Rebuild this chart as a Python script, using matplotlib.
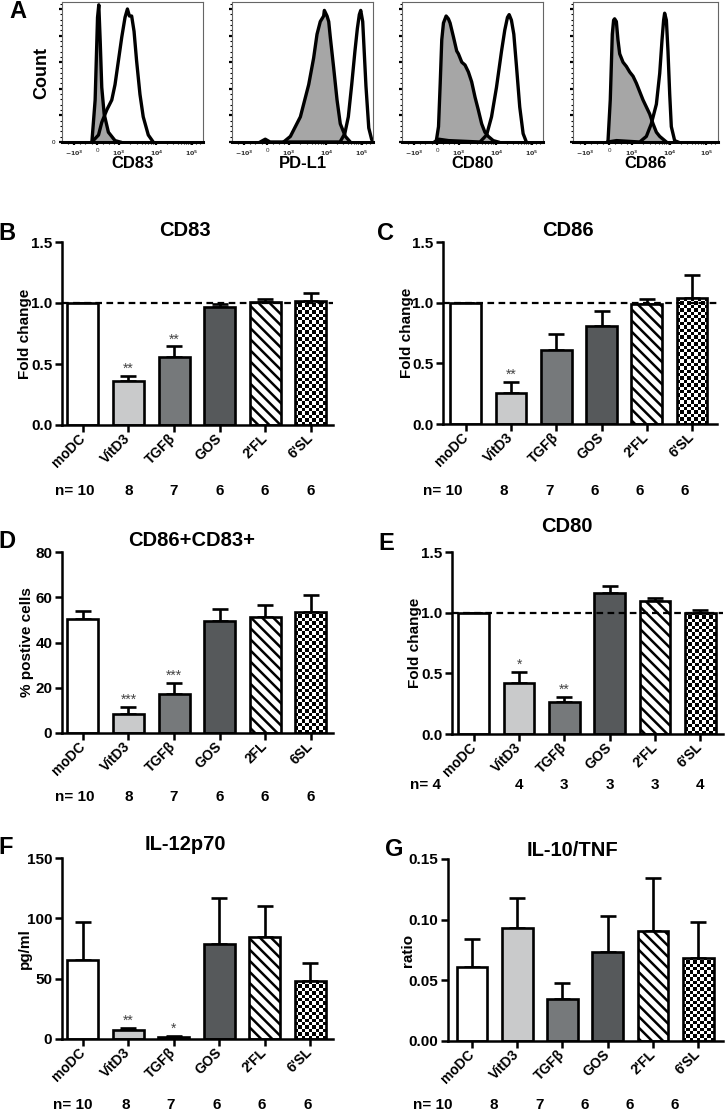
import numpy as np
import matplotlib
matplotlib.use('Agg')
import matplotlib.pyplot as plt
from matplotlib.ticker import MultipleLocator, FixedLocator

plt.rcParams['font.family'] = ['Liberation Sans', 'DejaVu Sans']
plt.rcParams['font.weight'] = 'bold'
plt.rcParams['hatch.linewidth'] = 1.8

# ---- panel A: flow histograms (channel 0-1000, % of max count) ----
cd83_iso_x = [212, 235, 252, 261, 271, 282, 299, 329, 376, 412]
cd83_iso_y = [0, 30, 89, 98, 72, 39, 20, 7, 1, 0]
cd83_st_x = [212, 259, 282, 318, 353, 376, 400, 424, 447, 464, 478, 494, 511, 529, 553, 576, 612, 647]
cd83_st_y = [0, 5, 14, 23, 30, 41, 58, 75, 89, 95, 90, 90, 79, 58, 34, 18, 5, 0]

pdl1_iso_x = [366, 414, 485, 544, 579, 603, 626, 650, 655, 674, 686, 697, 721, 745, 768, 804, 839]
pdl1_iso_y = [0, 4, 18, 41, 60, 77, 86, 90, 94, 90, 86, 75, 53, 30, 13, 4, 0]
pdl1_st_x = [200, 236, 270, 766, 800, 825, 849, 872, 889, 903, 913, 927, 950, 970, 990, 1000]
pdl1_st_y = [0, 2, 0, 0, 6, 18, 41, 65, 81, 91, 94, 86, 40, 10, 2, 0]

cd80_iso_x = [242, 259, 271, 282, 294, 313, 329, 341, 365, 388, 400, 424, 447, 471, 494, 518, 541, 565, 588, 612, 647, 682]
cd80_iso_y = [0, 11, 42, 73, 85, 90, 88, 85, 75, 65, 63, 57, 55, 50, 43, 32, 23, 13, 7, 4, 1, 0]
cd80_st_x = [230, 260, 330, 553, 600, 635, 670, 706, 729, 748, 760, 776, 793, 812, 835, 859, 882]
cd80_st_y = [0, 2, 1, 0, 5, 18, 39, 65, 80, 89, 91, 87, 77, 54, 25, 6, 0]

cd86_iso_x = [241, 257, 271, 280, 287, 299, 310, 322, 345, 368, 391, 414, 437, 460, 483, 506, 529, 552, 575, 598, 644]
cd86_iso_y = [0, 30, 77, 87, 88, 86, 73, 63, 57, 54, 50, 47, 42, 36, 30, 25, 20, 13, 7, 4, 0]
cd86_st_x = [241, 300, 460, 506, 540, 575, 598, 614, 625, 632, 644, 655, 667, 678, 701, 724]
cd86_st_y = [0, 1, 0, 4, 13, 27, 49, 73, 87, 92, 87, 65, 34, 11, 1, 0]

hist_tick_pos = [85, 250, 405, 670, 920]
hist_tick_lab = ['$-10^3$', '0', '$10^3$', '$10^4$', '$10^5$']

# ---- bar panels ----
groups = ['moDC', 'VitD3', 'TGFβ', 'GOS', "2'FL", "6'SL"]
groups_d = ['moDC', 'VitD3', 'TGFβ', 'GOS', '2FL', '6SL']
n_main = [10, 8, 7, 6, 6, 6]
n_cd80 = [4, 4, 3, 3, 3, 4]

cd83_mean = [1.0, 0.36, 0.56, 0.97, 1.01, 1.02]
cd83_sem = [0, 0.04, 0.085, 0.02, 0.025, 0.06]
cd86_mean = [1.0, 0.255, 0.61, 0.81, 0.985, 1.035]
cd86_sem = [0, 0.09, 0.13, 0.12, 0.045, 0.19]
dp_mean = [50.3, 8.4, 17.3, 49.7, 51.4, 53.7]
dp_sem = [3.6, 3.3, 4.8, 5.1, 5.1, 7.3]
cd80_mean = [1.0, 0.42, 0.26, 1.165, 1.10, 1.0]
cd80_sem = [0, 0.095, 0.045, 0.055, 0.025, 0.025]
il12_mean = [65.7, 7.2, 1.5, 78.5, 84.5, 47.8]
il12_sem = [31, 2.3, 1.4, 38.3, 25.7, 15.5]
ratio_mean = [0.061, 0.0935, 0.035, 0.0737, 0.0907, 0.0687]
ratio_sem = [0.0233, 0.0245, 0.0124, 0.029, 0.0433, 0.029]

bar_colors = ['white', '#c9cacb', '#76797b', '#56595b', 'white', 'white']

W, H = 725, 1112
fig = plt.figure(figsize=(W / 100, H / 100), dpi=100)


def rect(l, t, r, b):
    return [l / W, 1 - b / H, (r - l) / W, (b - t) / H]


def ftext(x, y, s, **kw):
    fig.text(x / W, 1 - y / H, s, ha='center', va='center', **kw)


def hist_panel(r, iso_x, iso_y, st_x, st_y, label, first):
    ax = fig.add_axes(rect(*r))
    ax.fill_between(iso_x, iso_y, color='#a6a6a6', lw=0)
    ax.plot(iso_x, iso_y, color='black', lw=2.4)
    ax.plot(st_x, st_y, color='black', lw=2.4)
    ax.set_xlim(0, 1000)
    ax.set_ylim(0, 100)
    for s in ['top', 'right', 'left']:
        ax.spines[s].set_color('#666666')
        ax.spines[s].set_linewidth(0.8)
    ax.spines['bottom'].set_linewidth(2.2)
    ax.set_xticks(hist_tick_pos)
    ax.set_xticklabels(hist_tick_lab, fontsize=4.5, fontweight='normal', color='#333333')
    minor = [45, 125, 165, 210, 290, 330, 370]
    minor += [405 + 265 * np.log10(k) for k in range(2, 10)]
    minor += [670 + 250 * np.log10(k) for k in range(2, 10)]
    minor += [950, 980]
    ax.xaxis.set_minor_locator(FixedLocator(minor))
    ax.yaxis.set_major_locator(MultipleLocator(19))
    ax.yaxis.set_minor_locator(MultipleLocator(3.8))
    ax.tick_params(which='major', direction='out', length=2.5, width=1.6, pad=2)
    ax.tick_params(which='minor', direction='out', length=1.3, width=0.8)
    yt = ax.get_yticks()
    ax.set_yticks(yt)
    ax.set_yticklabels(['0' if (first and v == 0) else '' for v in yt],
                       fontsize=4.5, fontweight='normal')
    ax.set_ylim(0, 100)
    cx = (r[0] + r[2]) / 2
    ftext(cx, 164, label, fontsize=12, fontweight='bold')


hist_panel((62, 2, 203, 142), cd83_iso_x, cd83_iso_y, cd83_st_x, cd83_st_y, 'CD83', True)
hist_panel((232, 2, 373, 142), pdl1_iso_x, pdl1_iso_y, pdl1_st_x, pdl1_st_y, 'PD-L1', False)
hist_panel((402, 2, 543, 142), cd80_iso_x, cd80_iso_y, cd80_st_x, cd80_st_y, 'CD80', False)
hist_panel((573, 2, 718, 142), cd86_iso_x, cd86_iso_y, cd86_st_x, cd86_st_y, 'CD86', False)
fig.text(42 / W, 1 - 73 / H, 'Count', rotation=90, ha='center', va='center',
         fontsize=13, fontweight='bold')


def bar_panel(r, means, sem, ymax, ystep, fmt, ylabel, labels, n, stars,
              xlim, dashed, n_gap, ylab_gap, n_first_dx, n_shift):
    ax = fig.add_axes(rect(*r))
    x = np.arange(len(means))
    ax.set_xlim(*xlim)
    ax.set_ylim(0, ymax)
    ax.errorbar(x, means, yerr=[np.zeros(len(sem)), sem], fmt='none', ecolor='black',
                elinewidth=1.9, capsize=6, capthick=1.9, zorder=1.5)
    bars = ax.bar(x, means, width=0.68, color=bar_colors, edgecolor='black',
                  linewidth=0, zorder=2)
    bars[4].set_hatch('\\\\\\')
    bars[4].set_edgecolor('black')
    # checkerboard fill for the last bar
    b = bars[5]
    p0 = ax.transData.transform((b.get_x(), 0))
    p1 = ax.transData.transform((b.get_x() + b.get_width(), b.get_height()))
    nx = max(1, int(round((p1[0] - p0[0]) / 3.4)))
    ny = max(1, int(round((p1[1] - p0[1]) / 3.4)))
    checker = np.add.outer(np.arange(ny), np.arange(nx)) % 2
    im = ax.imshow(checker, cmap='gray', interpolation='nearest', aspect='auto',
                   extent=[b.get_x(), b.get_x() + b.get_width(), 0, b.get_height()],
                   zorder=2.2)
    im.set_clip_path(b)
    ax.set_xlim(*xlim)
    ax.set_ylim(0, ymax)
    ax.bar(x, means, width=0.68, fill=False, edgecolor='black', linewidth=1.9, zorder=3)
    if dashed:
        ax.axhline(1.0, color='black', lw=1.6, ls=(0, (3, 2)), zorder=4)
    for i, s in stars:
        ax.annotate(s, xy=(i, means[i] + sem[i]), xytext=(0, 0), textcoords='offset points',
                    ha='center', va='bottom', fontsize=10, fontweight='normal', color='#444444')
    for s in ['top', 'right']:
        ax.spines[s].set_visible(False)
    for s in ['left', 'bottom']:
        ax.spines[s].set_linewidth(1.8)
    ticks = np.arange(0, ymax + ystep / 2, ystep)
    ax.set_yticks(ticks)
    ax.set_yticklabels([fmt.format(t) for t in ticks], fontsize=11, fontweight='bold')
    ax.set_xticks(x)
    ax.set_xticklabels(labels, rotation=45, ha='right', va='center', rotation_mode='anchor',
                       fontsize=10, fontweight='bold')
    ax.tick_params(direction='out', length=5, width=1.8, pad=2)
    ax.tick_params(axis='x', pad=3)
    ax.set_ylabel(ylabel, fontsize=11, fontweight='bold')
    ax.yaxis.label.set_verticalalignment('center')
    ax.yaxis.set_label_coords(-ylab_gap / (r[2] - r[0]), 0.5)
    # sample sizes: first entry carries the "n=" prefix
    ax.annotate('n= %d' % n[0], xy=(0, 0), xycoords=('data', 'axes fraction'),
                xytext=(n_first_dx, -n_gap), textcoords='offset pixels',
                ha='left', va='center', fontsize=11, fontweight='bold')
    for i, v in enumerate(n[1:], start=1):
        ax.annotate(str(v), xy=(i, 0), xycoords=('data', 'axes fraction'),
                    xytext=(n_shift, -n_gap), textcoords='offset pixels',
                    ha='center', va='center', fontsize=11, fontweight='bold')
    return ax


bar_panel((62, 242, 333, 425), cd83_mean, cd83_sem, 1.5, 0.5, '{:.1f}', 'Fold change',
          groups, n_main, [(1, '**'), (2, '**')], (-0.46, 5.49), True, 66, 37, -28, 0)
bar_panel((443, 242, 717, 424), cd86_mean, cd86_sem, 1.5, 0.5, '{:.1f}', 'Fold change',
          groups, n_main, [(1, '**')], (-0.5, 5.55), True, 67, 36, -43, -7)
bar_panel((62, 552, 333, 733), dp_mean, dp_sem, 80, 20, '{:.0f}', '% postive cells',
          groups_d, n_main, [(1, '***'), (2, '***')], (-0.46, 5.49), False, 64, 35, -28, 0)
bar_panel((452, 552, 723, 734), cd80_mean, cd80_sem, 1.5, 0.5, '{:.1f}', 'Fold change',
          groups, n_cd80, [(1, '*'), (2, '**')], (-0.48, 5.5), True, 51, 37, -64, 0)
bar_panel((62, 858, 333, 1039), il12_mean, il12_sem, 150, 50, '{:.0f}', 'pg/ml',
          groups, n_main, [(1, '**'), (2, '*')], (-0.46, 5.5), False, 66, 37, -30, -3)
bar_panel((448, 859, 723, 1041), ratio_mean, ratio_sem, 0.15, 0.05, '{:.2f}', 'ratio',
          groups, n_main, [], (-0.53, 5.55), False, 64, 40, -59, -23)

# titles and panel letters
for x, y, s in [(185, 230, 'CD83'), (568, 230, 'CD86'), (192, 541, 'CD86+CD83+'),
                (567, 527, 'CD80'), (185, 845, 'IL-12p70'), (572, 850, 'IL-10/TNF')]:
    ftext(x, y, s, fontsize=14.5, fontweight='bold')
for x, y, s in [(18, 12, 'A'), (7, 233, 'B'), (386, 233, 'C'), (7, 541, 'D'),
                (386, 543, 'E'), (6, 848, 'F'), (394, 850, 'G')]:
    ftext(x, y, s, fontsize=17, fontweight='bold')

fig.savefig('out.png', dpi=100)
